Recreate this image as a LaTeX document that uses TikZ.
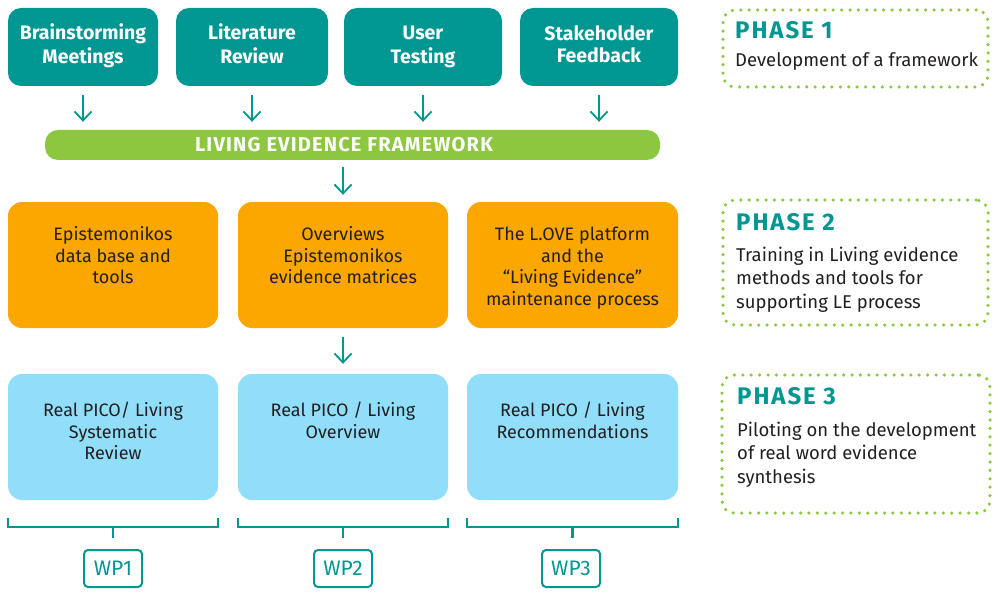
\documentclass[tikz,border=0pt]{standalone}
\usepackage{fontspec}
\setmainfont{Fira Sans}
\usetikzlibrary{arrows.meta}
\definecolor{tealc}{RGB}{0,150,146}
\definecolor{greenc}{RGB}{141,198,63}
\definecolor{orangec}{RGB}{252,166,0}
\definecolor{bluec}{RGB}{145,222,250}
\definecolor{darkc}{RGB}{35,31,32}
\begin{document}
\begin{tikzpicture}[x=1pt,y=-1pt,
  tbox/.style={fill=tealc, rounded corners=13pt, minimum height=78pt, inner sep=0pt,
    text=white, font=\fontsize{19.5}{22}\selectfont\bfseries, align=center},
  bar/.style={fill=greenc, rounded corners=13pt, minimum width=615pt, minimum height=30pt,
    inner sep=0pt, text=white, font=\fontsize{20}{22}\selectfont\bfseries\addfontfeature{LetterSpace=6}},
  obox/.style={fill=orangec, rounded corners=14pt, minimum width=210pt, minimum height=126pt, inner sep=0pt},
  bbox/.style={fill=bluec, rounded corners=14pt, minimum width=210pt, minimum height=126pt, inner sep=0pt},
  btext/.style={anchor=base, inner sep=0pt, text=darkc, font=\fontsize{18}{21.5}\selectfont},
  pbox/.style={draw=greenc, line width=3.5pt, dash pattern=on 0pt off 8.4pt, line cap=round,
    rounded corners=12pt, minimum width=265pt, inner sep=0pt},
  ptitle/.style={anchor=base west, inner sep=0pt, text=tealc,
    font=\fontsize{24}{26}\selectfont\bfseries\addfontfeature{LetterSpace=8}},
  pbody/.style={anchor=base west, inner sep=0pt, text=darkc, font=\fontsize{18.5}{23.5}\selectfont},
  arr/.style={draw=tealc, line width=1.8pt, -{Straight Barb[length=9pt,width=17pt,line width=1.8pt]}},
  brk/.style={draw=tealc, line width=2.2pt},
  wp/.style={draw=tealc, line width=2pt, rounded corners=4pt, minimum width=58pt, minimum height=37pt,
    inner sep=0pt, text=tealc, font=\fontsize{21}{24}\selectfont}
]
\useasboundingbox[fill=white] (0,0) rectangle (1000,596);

% top boxes
\node[tbox, minimum width=150pt] (t1) at (83,47) {\strut Brainstorming\\\strut Meetings};
\node[tbox, minimum width=152pt] (t2) at (252,47) {\strut Literature\\\strut Review};
\node[tbox, minimum width=158pt] (t3) at (423,47) {\strut User\\\strut Testing};
\node[tbox, minimum width=158pt] (t4) at (599,47) {\strut Stakeholder\\\strut Feedback};

% framework bar
\node[bar] (fw) at (352.5,145) {\kern-17pt LIVING EVIDENCE FRAMEWORK};

\foreach \n in {t1,t2,t3,t4}
  \draw[arr, shorten <=9pt, shorten >=8pt] (\n.south) -- (\n.south |- fw.north);

% orange boxes
\node[obox] (o1) at (113,265) {};
\node[obox] (o2) at (343,265) {};
\node[obox, minimum width=211pt] (o3) at (572.5,265) {};
\node[btext] (o1t) at ([yshift=-39pt]o1.north) {\parbox[t]{200pt}{\centering Epistemonikos\\data base and\\tools}};
\node[btext] (o2t) at ([yshift=-39pt]o2.north) {\parbox[t]{200pt}{\centering Overviews\\Epistemonikos\\evidence matrices}};
\node[btext] (o3t) at ([yshift=-39pt]o3.north) {\parbox[t]{205pt}{\centering The L.OVE platform\\and the\\“Living Evidence”\\maintenance process}};

\draw[arr, shorten <=7pt, shorten >=7pt] (o2.north |- fw.south) -- (o2.north);

% blue boxes
\node[bbox] (b1) at (113,437) {};
\node[bbox] (b2) at (343,437) {};
\node[bbox, minimum width=211pt] (b3) at (572.5,437) {};
\node[btext] (b1t) at ([yshift=-43pt]b1.north) {\parbox[t]{200pt}{\centering Real PICO/ Living\\Systematic\\Review}};
\node[btext] (b2t) at ([yshift=-43pt]b2.north) {\parbox[t]{200pt}{\centering Real PICO / Living\\Overview}};
\node[btext] (b3t) at ([yshift=-43pt]b3.north) {\parbox[t]{205pt}{\centering Real PICO / Living\\Recommendations}};

\draw[arr, shorten <=9pt, shorten >=10pt] (o2.south) -- (b2.north);

% brackets
\draw[brk] (8,518) -- (8,527) -- (218,527) -- (218,518) (113,527) -- (113,538);
\draw[brk] (238,518) -- (238,527) -- (448,527) -- (448,518) (343,527) -- (343,538);
\draw[brk] (467,518) -- (467,527) -- (678,527) -- (678,518) (572.5,527) -- (572.5,538);

% WP boxes
\node[wp] (w1) at (113,568.5) {WP1};
\node[wp] (w2) at (343,568.5) {WP2};
\node[wp] (w3) at (571,568.5) {WP3};

% phases
\node[pbox, minimum height=77pt] (p1) at (855.5,48.5) {};
\node[ptitle] (p1t) at (735,39) {PHASE 1};
\node[pbody] (p1b) at (735,67) {\parbox[t]{250pt}{\raggedright Development of a framework}};

\node[pbox, minimum height=125pt] (p2) at (855.5,262.5) {};
\node[ptitle] (p2t) at (736,230) {PHASE 2};
\node[pbody] (p2b) at (736,261) {\parbox[t]{250pt}{\raggedright Training in Living evidence\\methods and tools for\\supporting LE process}};

\node[pbox, minimum width=268pt, minimum height=138pt] (p3) at (856,444) {};
\node[ptitle] (p3t) at (737,404) {PHASE 3};
\node[pbody] (p3b) at (737,436) {\parbox[t]{250pt}{\raggedright Piloting on the development\\of real word evidence\\synthesis}};
\end{tikzpicture}
\end{document}
